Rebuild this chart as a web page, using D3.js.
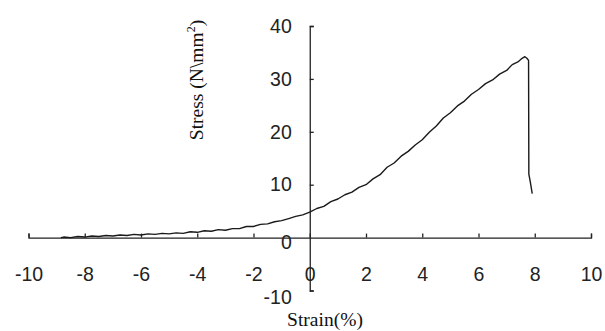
<!DOCTYPE html>
<html lang="en">
<head>
  <meta charset="UTF-8" />
  <title>Stress-Strain</title>
  <script src="https://d3js.org/d3.v7.min.js"></script>
  <style>
    body { margin: 0; background: #fff; }
    svg { display: block; }
    .axis text { font-family: 'Liberation Sans', Arial, sans-serif; font-size: 19.5px; fill: #222; }
    .axis path, .axis line { stroke: #222; stroke-width: 1.3px; }
    .title { font-family: 'Liberation Serif', 'Times New Roman', serif; font-size: 19.5px; fill: #111; }
  </style>
</head>
<body>
  <svg width="605" height="331"></svg>

  <script>
    // values
    const strain = [-8.85, -8.75, -8.5, -8.25, -8, -7.75, -7.5, -7.25, -7, -6.75, -6.5, -6.25, -6, -5.75, -5.5, -5.25,
      -5, -4.75, -4.5, -4.25, -4, -3.75, -3.5, -3.25, -3, -2.75, -2.5, -2.25, -2, -1.75, -1.5, -1.25, -1, -0.75, -0.5, -0.25,
      0, 0.25, 0.5, 0.75, 1, 1.25, 1.5, 1.75, 2, 2.25, 2.5, 2.75, 3, 3.25, 3.5, 3.75, 4, 4.25, 4.5, 4.75,
      5, 5.25, 5.5, 5.75, 6, 6.25, 6.5, 6.75, 7, 7.2, 7.4, 7.55, 7.65, 7.72, 7.78, 7.79, 7.84, 7.91];
    const stress = [0, 0.1, 0, 0.2, 0.1, 0.3, 0.2, 0.4, 0.3, 0.5, 0.4, 0.6, 0.5, 0.7, 0.6, 0.8,
      0.7, 0.9, 0.8, 1.1, 1.0, 1.3, 1.2, 1.5, 1.4, 1.7, 1.7, 2.1, 2.1, 2.5, 2.6, 3.0, 3.2, 3.6, 4.0, 4.3,
      4.8, 5.5, 5.9, 6.8, 7.3, 8.1, 8.6, 9.5, 10.0, 11.1, 11.9, 13.3, 14.1, 15.4, 16.3, 17.5, 18.5, 19.9, 21.1, 22.6,
      23.6, 24.9, 25.8, 27.1, 28.0, 29.1, 29.8, 30.9, 31.6, 32.7, 33.2, 33.9, 34.2, 33.9, 33.5, 12.0, 10.6, 8.3];
    const xTicks = [-10, -8, -6, -4, -2, 0, 2, 4, 6, 8, 10];
    const yTicks = [-10, 0, 10, 20, 30, 40];

    const svg = d3.select("svg");
    const x = d3.scaleLinear().domain([-10, 10]).range([28.5, 591]);
    const y = d3.scaleLinear().domain([-10, 40]).range([290.5, 26]);
    const fmt = d => String(d);

    // x axis through y = 0, ticks pointing up
    const gx = svg.append("g")
      .attr("class", "axis")
      .attr("transform", `translate(0,${y(0)})`)
      .call(d3.axisBottom(x).tickValues(xTicks).tickSizeInner(-4).tickSizeOuter(-4).tickFormat(fmt));
    gx.selectAll("text").attr("y", 30);

    // y axis through x = 0, ticks pointing right
    const gy = svg.append("g")
      .attr("class", "axis")
      .attr("transform", `translate(${x(0)},0)`)
      .call(d3.axisLeft(y).tickValues(yTicks).tickSizeInner(-4).tickSizeOuter(-4).tickFormat(fmt));
    gy.selectAll("text").attr("x", -18);
    gy.selectAll(".tick").filter(d => d === 0).select("text").attr("dy", "0.55em");
    gy.selectAll(".tick").filter(d => d === -10).select("text").attr("dy", "0.65em");
    gy.selectAll(".tick").filter(d => d === 0).select("line").remove();

    const line = d3.line().x((d, i) => x(strain[i])).y(d => y(d));
    svg.append("path")
      .datum(stress)
      .attr("d", line)
      .attr("fill", "none")
      .attr("stroke", "#1a1a1a")
      .attr("stroke-width", 1.4)
      .attr("stroke-linejoin", "round");

    svg.append("text")
      .attr("class", "title")
      .attr("x", 325)
      .attr("y", 326)
      .attr("text-anchor", "middle")
      .text("Strain(%)");

    const yt = svg.append("text")
      .attr("class", "title")
      .attr("transform", "translate(203,80) rotate(-90)")
      .attr("text-anchor", "middle");
    yt.append("tspan").text("Stress (N\\mm");
    yt.append("tspan").attr("dy", -8).attr("font-size", 12).text("2");
    yt.append("tspan").attr("dy", 8).text(")");
  </script>
</body>
</html>
